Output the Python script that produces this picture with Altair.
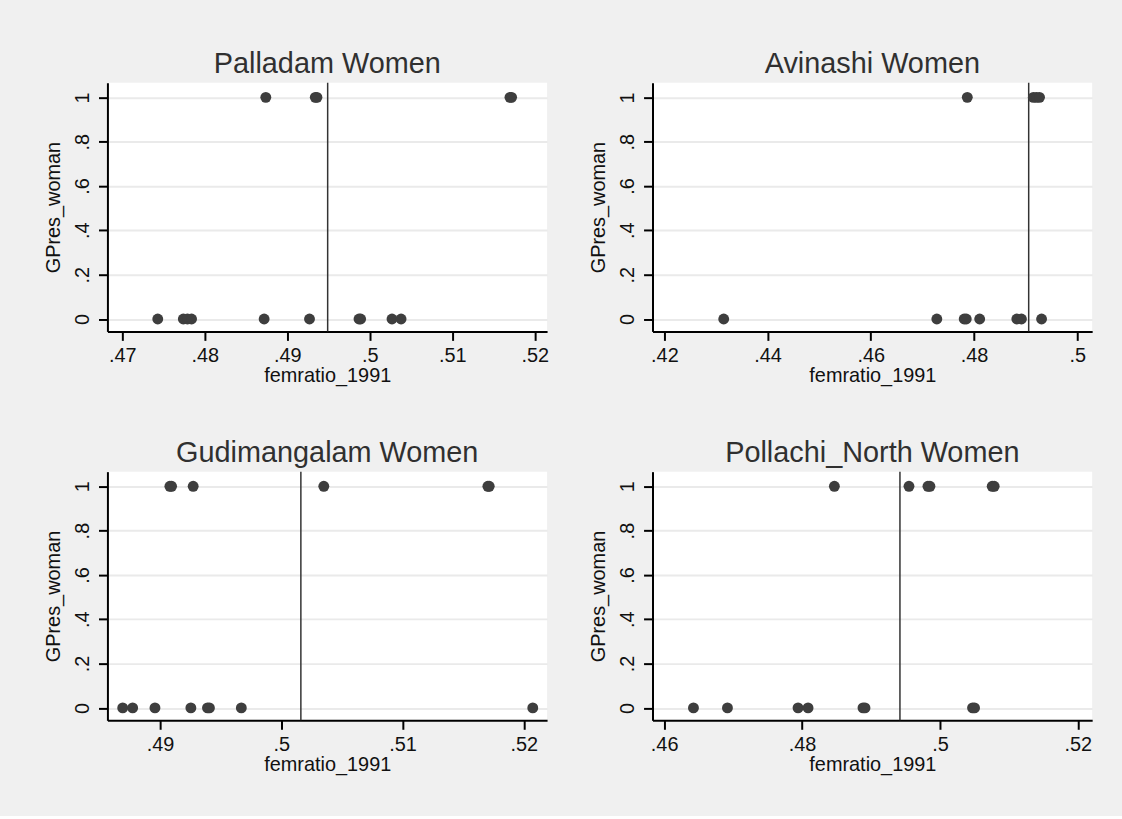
import altair as alt
import pandas as pd

# ---- data ----
titles = ["Palladam Women", "Avinashi Women", "Gudimangalam Women", "Pollachi_North Women"]

p1_zero = [.4743, .4774, .4779, .4784, .4872, .4927, .4987, .4989, .5027, .5038]
p1_one = [.4874, .4934, .4936, .5170, .5172]
p1_cut = .4949
p1_ticks = [.47, .48, .49, .50, .51, .52]
p1_domain = [.4682, .5215]

p2_zero = [.4315, .4728, .4781, .4785, .4811, .4883, .4892, .4931]
p2_one = [.4787, .4915, .4921, .4927]
p2_cut = .4906
p2_ticks = [.42, .44, .46, .48, .50]
p2_domain = [.4177, .5029]

p3_zero = [.48693, .48775, .48959, .49255, .49392, .49408, .49671, .52074]
p3_one = [.49082, .49096, .49274, .50351, .51704, .51715]
p3_cut = .50162
p3_ticks = [.49, .50, .51, .52]
p3_domain = [.48567, .52192]

p4_zero = [.46425, .46918, .47942, .48087, .48884, .48913, .50473, .50502]
p4_one = [.48469, .49551, .49826, .49855, .50758, .50787]
p4_cut = .4942
p4_ticks = [.46, .48, .50, .52]
p4_domain = [.45831, .52208]

y_ticks = [0, .2, .4, .6, .8, 1]
y_domain = [-0.056, 1.066]

FONT = "Liberation Sans"
fmt = "replace(format(datum.value, '.2~f'), '0.', '.')"

axis_common = dict(
    domainColor="black", domainWidth=2, tickColor="black", tickWidth=2, tickSize=9,
    labelFont=FONT, labelFontSize=20, labelColor="#111111",
    titleFont=FONT, titleFontSize=20, titleColor="#111111", titleFontWeight="normal",
)


def panel(title, zeros, ones, cut, ticks, domain):
    df = pd.DataFrame({
        "femratio_1991": list(zeros) + list(ones),
        "GPres_woman": [0] * len(zeros) + [1] * len(ones),
    })
    x = alt.X(
        "femratio_1991:Q",
        title="femratio_1991",
        scale=alt.Scale(domain=domain, nice=False, zero=False),
        axis=alt.Axis(values=ticks, labelExpr=fmt, grid=False,
                      labelPadding=5, titlePadding=0, **axis_common),
    )
    y = alt.Y(
        "GPres_woman:Q",
        title="GPres_woman",
        scale=alt.Scale(domain=y_domain, nice=False, zero=False),
        axis=alt.Axis(values=y_ticks, labelExpr=fmt, grid=True,
                      gridColor="#eaeaea", gridWidth=2,
                      labelAngle=270, labelAlign="center", labelBaseline="bottom",
                      labelPadding=6, titlePadding=9, **axis_common),
    )
    pts = alt.Chart(df).mark_circle(size=120, color="#3e3e3e", opacity=1).encode(x=x, y=y)
    rule = alt.Chart(pd.DataFrame({"cut": [cut]})).mark_rule(
        color="#333333", strokeWidth=1.5
    ).encode(x=alt.X("cut:Q", scale=alt.Scale(domain=domain, nice=False, zero=False)))
    return alt.layer(rule, pts).properties(
        width=442, height=250,
        title=alt.TitleParams(text=title, fontSize=29, font=FONT, fontWeight="normal",
                              color="#303030", offset=3),
    )


charts = [
    panel(titles[0], p1_zero, p1_one, p1_cut, p1_ticks, p1_domain),
    panel(titles[1], p2_zero, p2_one, p2_cut, p2_ticks, p2_domain),
    panel(titles[2], p3_zero, p3_one, p3_cut, p3_ticks, p3_domain),
    panel(titles[3], p4_zero, p4_one, p4_cut, p4_ticks, p4_domain),
]

chart = alt.concat(
    *charts, columns=2, spacing={"row": 141, "column": 106}, bounds="flush"
).properties(
    background="#f0f0f0",
    padding={"left": 44, "top": 48, "right": 30, "bottom": 40},
).configure_view(
    fill="white", stroke=None
)

chart.save("out.html", embed_options={"renderer": "svg", "actions": False})
